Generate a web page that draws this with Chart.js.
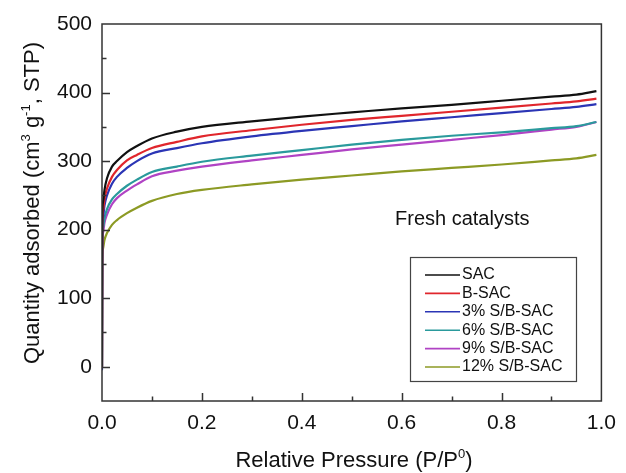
<!DOCTYPE html>
<html>
<head>
<meta charset="utf-8">
<script src="https://cdn.jsdelivr.net/npm/chart.js@4/dist/chart.umd.min.js"></script>
<style>
  html, body { margin: 0; padding: 0; background: #fff; }
  #wrap { width: 626px; height: 473px; }
</style>
</head>
<body>
<div id="wrap"><canvas id="chart" width="626" height="473"></canvas></div>
<script>
// N2 isotherms, relative pressure vs quantity adsorbed
var pressure = [0, 0.0005, 0.002, 0.005, 0.01, 0.02, 0.03, 0.05, 0.07, 0.1, 0.15, 0.2, 0.3, 0.4, 0.5, 0.6, 0.7, 0.8, 0.9, 0.95, 0.99];

var sac   = [0, 215, 240, 258, 275, 292, 300, 313, 322, 333, 343, 350, 358, 365, 371, 377, 382, 388, 394, 397, 402];
var bSac  = [0, 205, 228, 245, 260, 277, 287, 301, 309, 319, 328, 336, 345, 353, 360, 366, 372, 378, 384, 387, 391];
var sb3   = [-5, 195, 218, 235, 250, 267, 277, 290, 300, 311, 319, 326, 336, 344, 351, 358, 364, 370, 376, 379, 383];
var sb6   = [0, 185, 203, 217, 230, 244, 252, 264, 273, 284, 292, 299, 308, 316, 324, 331, 337, 342, 348, 351, 357];
var sb9   = [0, 172, 195, 210, 222, 237, 246, 257, 266, 278, 286, 292, 301, 309, 317, 324, 331, 338, 346, 350, 357];
var sb12  = [0, 150, 172, 185, 195, 207, 214, 224, 232, 242, 252, 258, 266, 273, 279, 285, 290, 295, 301, 304, 309];

var seriesNames  = ['SAC', 'B-SAC', '3% S/B-SAC', '6% S/B-SAC', '9% S/B-SAC', '12% S/B-SAC'];
var seriesValues = [sac, bSac, sb3, sb6, sb9, sb12];
var seriesColors = ['#111111', '#e0262c', '#2b35b5', '#2a9a9c', '#b043c4', '#8c9a24'];

var xTicks = [0, 0.2, 0.4, 0.6, 0.8, 1.0];
var yTicks = [0, 100, 200, 300, 400, 500];

var FONT = '"Liberation Sans", Arial, sans-serif';

function points(vals) {
  return pressure.map(function (p, i) { return { x: p, y: vals[i] }; });
}

var datasets = seriesValues.map(function (vals, i) {
  return {
    label: seriesNames[i],
    data: points(vals),
    borderColor: seriesColors[i],
    borderWidth: 2.2,
    pointRadius: 0,
    fill: false,
    cubicInterpolationMode: 'monotone'
  };
});

// text runs with superscripts, e.g. [['cm'], ['3', true]]
function drawRuns(ctx, runs, x, y, size) {
  var total = 0;
  runs.forEach(function (r) {
    ctx.font = (r[1] ? Math.round(size * 0.6) : size) + 'px ' + FONT;
    total += ctx.measureText(r[0]).width;
  });
  var cx = x - total / 2;
  runs.forEach(function (r) {
    ctx.font = (r[1] ? Math.round(size * 0.6) : size) + 'px ' + FONT;
    ctx.fillText(r[0], cx, r[1] ? y - size * 0.42 : y);
    cx += ctx.measureText(r[0]).width;
  });
}

var framePlugin = {
  id: 'frame',
  afterDatasetsDraw: function (chart) {
    var ctx = chart.ctx, a = chart.chartArea;
    var xs = chart.scales.x, ys = chart.scales.y;
    ctx.save();
    ctx.strokeStyle = '#333';
    ctx.lineWidth = 1.5;
    ctx.strokeRect(a.left, a.top, a.right - a.left, a.bottom - a.top);

    // inward ticks, major and minor
    ctx.beginPath();
    for (var v = 0; v <= 1.0001; v += 0.1) {
      var px = Math.round(xs.getPixelForValue(v)) + 0.5;
      var len = (Math.round(v * 10) % 2 === 0) ? 8 : 4.5;
      if (v > 0.001 && v < 0.999) {
        ctx.moveTo(px, a.bottom);
        ctx.lineTo(px, a.bottom - len);
      }
    }
    for (var w = 0; w <= 450; w += 50) {
      var py = Math.round(ys.getPixelForValue(w)) + 0.5;
      var l2 = (w % 100 === 0) ? 8 : 4.5;
      ctx.moveTo(a.left, py);
      ctx.lineTo(a.left + l2, py);
    }
    ctx.stroke();

    // legend box
    var bx = 410, by = 257, bw = 166, bh = 124;
    ctx.lineWidth = 1.2;
    ctx.strokeStyle = '#444';
    ctx.strokeRect(bx + 0.5, by + 0.5, bw, bh);
    ctx.font = '16px ' + FONT;
    ctx.textBaseline = 'middle';
    ctx.fillStyle = '#111';
    chart.data.datasets.forEach(function (ds, i) {
      var ry = by + 18 + i * 18.4;
      ctx.strokeStyle = ds.borderColor;
      ctx.lineWidth = 1.6;
      ctx.beginPath();
      ctx.moveTo(425, ry);
      ctx.lineTo(460, ry);
      ctx.stroke();
      ctx.fillText(ds.label, 462, ry);
    });

    // annotation
    ctx.font = '20px ' + FONT;
    ctx.textBaseline = 'alphabetic';
    ctx.fillText('Fresh catalysts', 395, 225);

    // axis titles
    drawRuns(ctx, [['Relative Pressure (P/P'], ['0', true], [')']], 354, 467, 22);
    ctx.translate(39, 203);
    ctx.rotate(-Math.PI / 2);
    drawRuns(ctx, [['Quantity adsorbed (cm'], ['3', true], [' g'], ['-1', true], [', STP)']], 0, 0, 22);
    ctx.restore();
  }
};

var chart = new Chart(document.getElementById('chart'), {
  type: 'line',
  data: { datasets: datasets },
  options: {
    responsive: false,
    animation: false,
    layout: { padding: { top: 24, right: 18, left: 0, bottom: 0 } },
    plugins: { legend: { display: false }, tooltip: { enabled: false } },
    scales: {
      x: {
        type: 'linear',
        min: 0,
        max: 1,
        afterBuildTicks: function (s) { s.ticks = xTicks.map(function (v) { return { value: v }; }); },
        afterFit: function (s) { s.height = 72; },
        grid: { display: false, drawTicks: false },
        border: { display: false },
        ticks: {
          color: '#111',
          padding: 10,
          maxRotation: 0,
          font: { family: FONT, size: 21 },
          callback: function (v) { return v.toFixed(1); }
        }
      },
      y: {
        type: 'linear',
        min: -50,
        max: 500,
        afterBuildTicks: function (s) { s.ticks = yTicks.map(function (v) { return { value: v }; }); },
        afterFit: function (s) { s.width = 102; },
        grid: { display: false, drawTicks: false },
        border: { display: false },
        ticks: {
          color: '#111',
          padding: 10,
          font: { family: FONT, size: 21 }
        }
      }
    }
  },
  plugins: [framePlugin]
});
</script>
</body>
</html>
